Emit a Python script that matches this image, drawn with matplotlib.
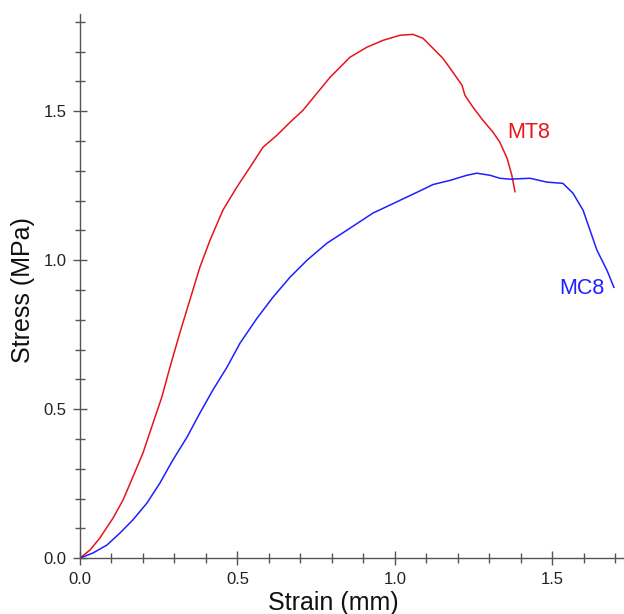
import matplotlib
matplotlib.use("Agg")
import matplotlib.pyplot as plt
from matplotlib.ticker import MultipleLocator

plt.rcParams['font.family'] = ['Liberation Sans', 'DejaVu Sans']

# MT8 curve (strain mm, stress MPa)
mt8_strain = [0.0, 0.032, 0.063, 0.105, 0.137, 0.168, 0.2, 0.232, 0.26, 0.286, 0.317,
              0.349, 0.381, 0.413, 0.454, 0.498, 0.54, 0.581, 0.625, 0.667, 0.708,
              0.752, 0.794, 0.857, 0.911, 0.962, 1.016, 1.057, 1.089, 1.121, 1.152,
              1.184, 1.213, 1.222, 1.248, 1.279, 1.311, 1.333, 1.356, 1.371, 1.381]
mt8_stress = [0.0, 0.027, 0.067, 0.134, 0.195, 0.272, 0.352, 0.453, 0.54, 0.641, 0.755,
              0.866, 0.977, 1.067, 1.168, 1.245, 1.312, 1.379, 1.419, 1.463, 1.503,
              1.56, 1.614, 1.681, 1.715, 1.738, 1.755, 1.758, 1.745, 1.711, 1.678,
              1.631, 1.587, 1.554, 1.513, 1.470, 1.430, 1.396, 1.342, 1.285, 1.230]

# MC8 curve
mc8_strain = [0.0, 0.041, 0.086, 0.127, 0.168, 0.213, 0.254, 0.295, 0.34, 0.381, 0.422,
              0.467, 0.508, 0.562, 0.613, 0.667, 0.721, 0.784, 0.848, 0.93, 1.016,
              1.07, 1.121, 1.175, 1.228, 1.26, 1.302, 1.333, 1.365, 1.429, 1.483,
              1.533, 1.565, 1.597, 1.619, 1.641, 1.673, 1.695]
mc8_stress = [0.0, 0.017, 0.044, 0.084, 0.128, 0.185, 0.252, 0.329, 0.406, 0.487, 0.564,
              0.641, 0.721, 0.805, 0.876, 0.943, 1.0, 1.057, 1.101, 1.158, 1.201,
              1.228, 1.254, 1.268, 1.285, 1.292, 1.285, 1.275, 1.272, 1.275, 1.262,
              1.258, 1.225, 1.168, 1.101, 1.034, 0.966, 0.909]

fig = plt.figure(figsize=(6.24, 6.14), dpi=100)
ax = fig.add_axes([0.128, 0.091, 0.872, 0.886])

ax.plot(mt8_strain, mt8_stress, color='#e8141c', lw=1.1)
ax.plot(mc8_strain, mc8_stress, color='#1f1fff', lw=1.1)

ax.text(1.355, 1.43, 'MT8', color='#e8141c', fontsize=15.5, va='center', ha='left')
ax.text(1.52, 0.905, 'MC8', color='#1f1fff', fontsize=15.5, va='center', ha='left')

ax.set_xlim(0, 1.727)
ax.set_ylim(0, 1.826)

for s in ['top', 'right']:
    ax.spines[s].set_visible(False)
for s in ['left', 'bottom']:
    ax.spines[s].set_color('#555555')
    ax.spines[s].set_linewidth(1.0)

ax.xaxis.set_major_locator(MultipleLocator(0.5))
ax.xaxis.set_minor_locator(MultipleLocator(0.1))
ax.yaxis.set_major_locator(MultipleLocator(0.5))
ax.yaxis.set_minor_locator(MultipleLocator(0.1))
ax.xaxis.set_major_formatter(plt.FormatStrFormatter('%.1f'))
ax.yaxis.set_major_formatter(plt.FormatStrFormatter('%.1f'))

ax.tick_params(which='major', direction='inout', length=9.5, width=1.0,
               color='#555555', labelsize=12, labelcolor='#222222', pad=5)
ax.tick_params(which='minor', direction='inout', length=7.5, width=1.0,
               color='#555555')

ax.set_xlabel('Strain (mm)', fontsize=18, color='#111111')
ax.set_ylabel('Stress (MPa)', fontsize=18, color='#111111')
ax.xaxis.set_label_coords(0.465, -0.06)
ax.yaxis.set_label_coords(-0.083, 0.493)

fig.savefig('out.png', dpi=100)
